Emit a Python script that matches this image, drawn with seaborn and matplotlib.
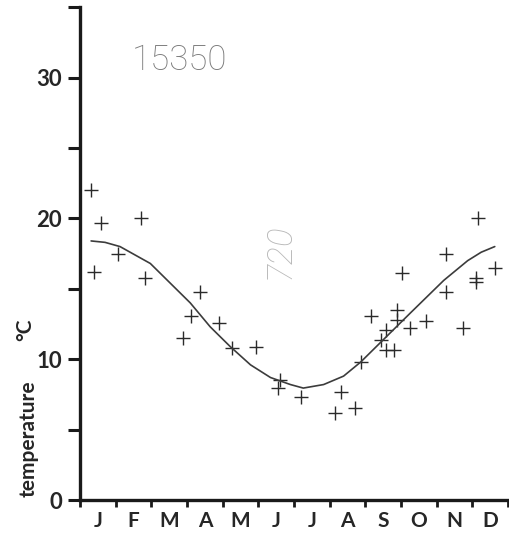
import numpy as np
import pandas as pd
import seaborn as sns
import matplotlib.pyplot as plt


obs_month = [0.31, 0.59, 0.39, 1.07, 1.71, 1.83, 3.37, 3.12, 2.90, 3.90, 4.27, 4.92,
             5.60, 5.56, 6.20, 7.33, 7.16, 7.70, 7.87, 8.15, 8.57, 8.45, 8.57, 8.80,
             8.90, 8.90, 9.04, 9.24, 9.69, 10.25, 10.25, 10.73, 11.15, 11.10, 11.10, 11.63]
obs_temp = [22.0, 19.7, 16.2, 17.5, 20.0, 15.8, 14.8, 13.1, 11.5, 12.6, 10.8, 10.9,
            8.5, 7.95, 7.3, 7.7, 6.2, 6.5, 9.8, 13.1, 12.1, 11.4, 10.65, 10.65,
            13.5, 12.8, 16.1, 12.2, 12.7, 17.5, 14.8, 12.2, 20.0, 15.8, 15.5, 16.5]

# fitted seasonal curve
fit_month = [0.31, 0.70, 1.12, 1.97, 2.53, 3.09, 3.65, 4.21, 4.78, 5.34, 5.90, 6.26,
             6.83, 7.39, 7.87, 8.51, 9.27, 10.20, 10.87, 11.25, 11.63]
fit_temp = [18.4, 18.3, 18.0, 16.8, 15.4, 14.0, 12.3, 10.9, 9.6, 8.7, 8.2, 7.95,
            8.2, 8.8, 9.8, 11.4, 13.3, 15.6, 17.0, 17.6, 18.0]

months = ['J', 'F', 'M', 'A', 'M', 'J', 'J', 'A', 'S', 'O', 'N', 'D']
station = '15350'
note = '720'

sns.set_style('ticks')
plt.rcParams['font.family'] = ['Lato', 'DejaVu Sans']

fig = plt.figure(figsize=(5.1, 5.35), dpi=100)
ax = fig.add_axes([0.157, 0.0654, 0.839, 0.9211])

obs = pd.DataFrame({'month': obs_month, 'temp': obs_temp})
fit = pd.DataFrame({'month': fit_month, 'temp': fit_temp})

sns.lineplot(data=fit, x='month', y='temp', color='#3c3c3c', linewidth=1.2, ax=ax)
sns.scatterplot(data=obs, x='month', y='temp', marker='+', s=90, color='#2a2a2a',
                linewidth=1.0, ax=ax)

ax.set_xlim(0, 12)
ax.set_ylim(0, 35)

# axes styling - only left and bottom spines, heavy like the original sheet
sns.despine(ax=ax)
for side in ['left', 'bottom']:
    ax.spines[side].set_linewidth(2.4)
    ax.spines[side].set_color('#1a1a1a')

ax.set_yticks([0, 10, 20, 30])
ax.set_yticks([5, 15, 25, 35], minor=True)
ax.set_yticklabels(['0', '10', '20', '30'], fontsize=16, fontweight='bold')
ax.tick_params(axis='y', which='both', direction='out', length=9, width=2.2,
               color='#1a1a1a', pad=4)

ax.set_xticks(np.arange(13))
ax.set_xticklabels([])
ax.set_xticks(np.arange(12) + 0.5, minor=True)
ax.set_xticklabels(months, minor=True, fontsize=15, fontweight='bold')
ax.tick_params(axis='x', which='major', direction='out', length=5, width=2.0,
               color='#1a1a1a')
ax.tick_params(axis='x', which='minor', length=0, pad=8)

ax.set_xlabel('')
ax.set_ylabel('')
ax.text(-0.121, 0.124, 'temperature', transform=ax.transAxes, rotation=90,
        ha='center', va='center', fontsize=15, fontweight='bold')
ax.text(-0.128, 0.345, '°C', transform=ax.transAxes, rotation=90,
        ha='center', va='center', fontsize=15, fontweight='bold')

# station number and the pencil note on the sheet
ax.text(2.78, 31.2, station, ha='center', va='center', fontsize=25,
        family='Roboto', fontweight='light', color='#7a7a7a')
ax.text(5.59, 17.7, note, ha='center', va='center', fontsize=25, rotation=90,
        family='Roboto', fontweight=100, style='italic', color='#b8b8b8')

fig.savefig('out.png', dpi=100, facecolor='white')
